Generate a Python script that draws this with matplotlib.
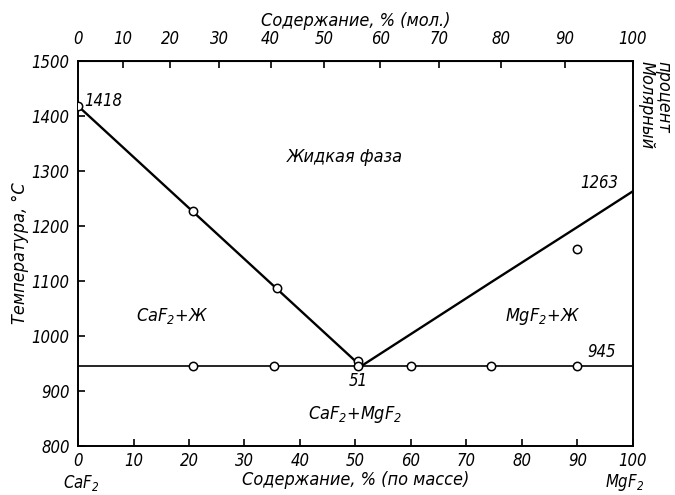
import numpy as np
import matplotlib
matplotlib.use("Agg")
import matplotlib.pyplot as plt

plt.rcParams['font.family'] = ['DejaVu Sans']
plt.rcParams['font.style'] = 'italic'
plt.rcParams['font.stretch'] = 'condensed'

# CaF2 - MgF2 system, composition in mass % MgF2
M_CAF2 = 78.08
M_MGF2 = 62.30

liq_caf2_x = [0, 51]
liq_caf2_t = [1418, 945]
liq_mgf2_x = [51, 61.3, 74.5, 90, 100]
liq_mgf2_t = [945, 1012, 1098, 1198, 1263]
eut_t = 945
eut_x = 51

# experimental points
pts_liq_x = [0, 20.7, 35.8, 50.4]
pts_liq_t = [1418, 1227, 1087, 955]
pts_eut_x = [20.7, 35.3, 50.4, 60.1, 74.4, 90.0]
pts_eut_t = [945, 945, 945, 945, 945, 945]
pts_mg_x = [90.0]
pts_mg_t = [1158]

mass_ticks = [0, 10, 20, 30, 40, 50, 60, 70, 80, 90, 100]
mol_ticks = [0, 10, 20, 30, 40, 50, 60, 70, 80, 90, 100]
temp_ticks = [800, 900, 1000, 1100, 1200, 1300, 1400, 1500]


def mass_to_mol(w):
    w = np.clip(np.asarray(w, dtype=float), 0, 100) / 100
    a = w / M_MGF2
    b = (1 - w) / M_CAF2
    return 100 * a / (a + b)


def mol_to_mass(x):
    x = np.clip(np.asarray(x, dtype=float), 0, 100) / 100
    a = x * M_MGF2
    b = (1 - x) * M_CAF2
    return 100 * a / (a + b)


fig = plt.figure(figsize=(6.75, 4.95), dpi=100)
ax = fig.add_axes([0.1156, 0.099, 0.822, 0.778])

ax.plot(liq_caf2_x, liq_caf2_t, color='black', lw=1.7, zorder=2)
ax.plot(liq_mgf2_x, liq_mgf2_t, color='black', lw=1.7, zorder=2)
ax.axhline(eut_t, color='black', lw=1.2, zorder=2)

mk = dict(ls='none', marker='o', ms=6, mfc='white', mec='black', mew=1.1, zorder=3)
ax.plot(pts_liq_x, pts_liq_t, **mk)
ax.plot(pts_eut_x, pts_eut_t, **mk)
ax.plot(pts_mg_x, pts_mg_t, **mk)

ax.set_xlim(0, 100)
ax.set_ylim(800, 1500)
ax.set_xticks(mass_ticks)
ax.set_yticks(temp_ticks)
ax.tick_params(direction='in', length=5, width=1.2, labelsize=12)
ax.tick_params(axis='x', pad=4)
ax.tick_params(axis='y', pad=6)
for s in ax.spines.values():
    s.set_linewidth(1.4)

top = ax.secondary_xaxis('top', functions=(mass_to_mol, mol_to_mass))
top.set_xticks(mol_ticks)
top.tick_params(direction='in', length=5, width=1.2, labelsize=12, pad=9)
top.set_xlabel('Содержание, % (мол.)', fontsize=13, labelpad=3)

ax.set_ylabel('Температура, °С', fontsize=13, labelpad=2)
ax.set_xlabel('Содержание, % (по массе)', fontsize=13, labelpad=1)

# component names under the axis ends
ax.text(0.5, 733, 'CaF$_2$', fontsize=12, ha='center', va='center', clip_on=False)
ax.text(98.5, 733, 'MgF$_2$', fontsize=12, ha='center', va='center', clip_on=False)

ax.text(102.5, 1500, 'Молярный', fontsize=13, rotation=-90,
        ha='center', va='top', clip_on=False)
ax.text(105.5, 1500, 'процент', fontsize=13, rotation=-90,
        ha='center', va='top', clip_on=False)

# point values
ax.text(4.5, 1427, '1418', fontsize=12, ha='center', va='center')
ax.text(94, 1278, '1263', fontsize=12, ha='center', va='center')
ax.text(94.4, 971, '945', fontsize=12, ha='center', va='center')
ax.text(eut_x - 0.5, 918, '51', fontsize=12, ha='center', va='center')

# phase fields
ax.text(48, 1325, 'Жидкая фаза', fontsize=13, ha='center', va='center')
ax.text(17, 1036, 'CaF$_2$+Ж', fontsize=13, ha='center', va='center')
ax.text(83.8, 1036, 'MgF$_2$+Ж', fontsize=13, ha='center', va='center')
ax.text(50, 858, 'CaF$_2$+MgF$_2$', fontsize=13, ha='center', va='center')

fig.savefig('out.png', dpi=100)
